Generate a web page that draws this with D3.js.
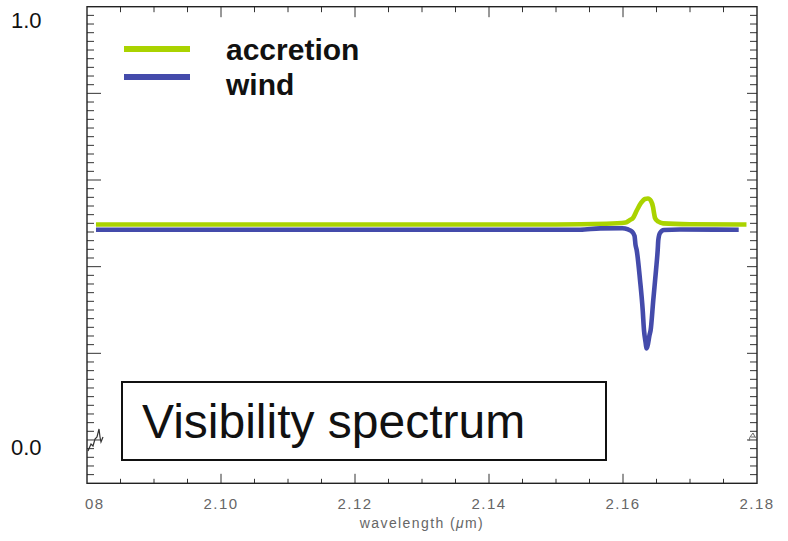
<!DOCTYPE html>
<html>
<head>
<meta charset="utf-8">
<script src="https://cdn.jsdelivr.net/npm/d3@7"></script>
<style>
  html, body { margin: 0; padding: 0; background: #fff; }
  svg { display: block; font-family: "Liberation Sans", Arial, sans-serif; }
</style>
</head>
<body>
<div id="graph"></div>
<script>
// accretion curve: [wavelength (um), visibility]
const accretion = [
  [2.08134, 0.4973], [2.1500, 0.4973], [2.1575, 0.4990], [2.1604, 0.5020],
  [2.16104, 0.5077], [2.16149, 0.5123], [2.16209, 0.5308], [2.16269, 0.5470],
  [2.16328, 0.5562], [2.16373, 0.5573], [2.16418, 0.5516], [2.16448, 0.5377],
  [2.16463, 0.5239], [2.16478, 0.5123], [2.16522, 0.5043], [2.16597, 0.5000],
  [2.1700, 0.4980], [2.17843, 0.4973]
];
// wind curve
const wind = [
  [2.08134, 0.4853], [2.1536, 0.4853], [2.1566, 0.4883], [2.1599, 0.4888],
  [2.16075, 0.4858], [2.16134, 0.4810], [2.16172, 0.4708], [2.16187, 0.4500],
  [2.16204, 0.4385], [2.16254, 0.3693], [2.16294, 0.3000], [2.16313, 0.2539],
  [2.16336, 0.2262], [2.16354, 0.2112], [2.16373, 0.2216], [2.16396, 0.2423],
  [2.16413, 0.2539], [2.16452, 0.3231], [2.16493, 0.3923], [2.16518, 0.4385],
  [2.16527, 0.4616], [2.16552, 0.4777], [2.16612, 0.4846], [2.1685, 0.4858],
  [2.17727, 0.4853]
];
const xTickLabels = ['08', '2.10', '2.12', '2.14', '2.16', '2.18'];
const xTickValues = [2.08, 2.10, 2.12, 2.14, 2.16, 2.18];
const yTickLabels = ['1.0', '0.0'];
const yTickValues = [1.0, 0.0];
const seriesNames = ['accretion', 'wind'];
const seriesColors = ['#aad300', '#444bab'];

const W = 788, H = 541;
const pLeft = 87, pRight = 757, pTop = 6.7, pBottom = 483.3;

const svg = d3.select('#graph')
  .append('svg')
    .attr('width', W)
    .attr('height', H);

const x = d3.scaleLinear().domain([2.08, 2.18]).range([pLeft, pRight]);
const y = d3.scaleLinear().domain([-0.1, 1.0]).range([pBottom, pTop]);

// minor / major ticks
const xMinor = d3.range(0, 21).map(i => 2.08 + i * 0.005).filter(v => v > 2.0801 && v < 2.1799);
const yMinor = d3.range(-4, 50).map(i => i * 0.02).filter(v => v > -0.0999 && v < 0.9999);
const isMajorX = v => Math.abs(Math.round(v * 50) - v * 50) < 1e-6;
const isMajorY = v => Math.abs(Math.round(v * 5) - v * 5) < 1e-6;

const ticks = svg.append('g').attr('stroke', '#333').attr('stroke-width', 1);

// bottom & top
ticks.selectAll('.xb').data(xMinor).enter().append('line')
  .attr('x1', d => x(d)).attr('x2', d => x(d))
  .attr('y1', pBottom).attr('y2', d => pBottom - (isMajorX(d) ? 9.5 : 4.5));
ticks.selectAll('.xt').data(xMinor).enter().append('line')
  .attr('x1', d => x(d)).attr('x2', d => x(d))
  .attr('y1', pTop).attr('y2', d => pTop + (isMajorX(d) ? 10.5 : 5.5));
// left & right
ticks.selectAll('.yl').data(yMinor).enter().append('line')
  .attr('y1', d => y(d)).attr('y2', d => y(d))
  .attr('x1', pLeft).attr('x2', d => pLeft + (isMajorY(d) ? 14 : 7));
ticks.selectAll('.yr').data(yMinor).enter().append('line')
  .attr('y1', d => y(d)).attr('y2', d => y(d))
  .attr('x1', pRight).attr('x2', d => pRight - (isMajorY(d) ? 10 : 7));

// frame
svg.append('rect')
  .attr('x', pLeft).attr('y', pTop)
  .attr('width', pRight - pLeft).attr('height', pBottom - pTop)
  .attr('fill', 'none')
  .attr('stroke', '#222')
  .attr('stroke-width', 1.4);

// x tick labels
svg.selectAll('.xlab').data(xTickValues).enter().append('text')
  .attr('x', (d, i) => i === 0 ? x(d) - 2 : x(d))
  .attr('y', 509)
  .attr('text-anchor', (d, i) => i === 0 ? 'start' : 'middle')
  .attr('fill', '#666')
  .style('font-size', '15px')
  .style('letter-spacing', '1.5px')
  .text((d, i) => xTickLabels[i]);

// x title
const xt = svg.append('text')
  .attr('x', (pLeft + pRight) / 2)
  .attr('y', 528)
  .attr('text-anchor', 'middle')
  .attr('fill', '#666')
  .style('font-size', '14px')
  .style('letter-spacing', '1.4px');
xt.append('tspan').text('wavelength (');
xt.append('tspan').style('font-style', 'italic').text('μ');
xt.append('tspan').text('m)');

// y labels (slide annotations)
const yOff = [21, 15];
svg.selectAll('.ylab').data(yTickValues).enter().append('text')
  .attr('x', 11)
  .attr('y', (d, i) => y(d) + yOff[i])
  .attr('fill', '#111')
  .style('font-size', '22px')
  .text((d, i) => yTickLabels[i]);

// garbled label remnants
svg.append('path')
  .attr('d', 'M88,451 L91,444 L93,446 L95,439 L97,437 L99,429 L100,437 L101,442 L103,437')
  .attr('fill', 'none').attr('stroke', '#333').attr('stroke-width', 1.2);
svg.append('path')
  .attr('d', 'M749,441 L750,437 L753,433 L755,437 L757,438 M751,437 L755,437')
  .attr('fill', 'none').attr('stroke', '#666').attr('stroke-width', 1);

// lines
const line = d3.line()
  .x(d => x(d[0]))
  .y(d => y(d[1]))
  .curve(d3.curveMonotoneX);

svg.append('path')
  .datum(accretion)
  .attr('d', line)
  .attr('fill', 'none')
  .attr('stroke', seriesColors[0])
  .attr('stroke-width', 4.6)
  .attr('stroke-linejoin', 'round');

svg.append('path')
  .datum(wind)
  .attr('d', line)
  .attr('fill', 'none')
  .attr('stroke', seriesColors[1])
  .attr('stroke-width', 4.6)
  .attr('stroke-linejoin', 'round');

// legend
const legendY = [49, 77], textY = [60, 95];
seriesNames.forEach((name, i) => {
  svg.append('line')
    .attr('x1', 124).attr('x2', 190)
    .attr('y1', legendY[i]).attr('y2', legendY[i])
    .attr('stroke', seriesColors[i])
    .attr('stroke-width', 6);
  svg.append('text')
    .attr('x', 226)
    .attr('y', textY[i])
    .style('font-size', '30px')
    .style('font-weight', 'bold')
    .attr('fill', '#111')
    .text(name);
});

// "Visibility spectrum" box
svg.append('rect')
  .attr('x', 122).attr('y', 382)
  .attr('width', 484).attr('height', 78)
  .attr('fill', '#fff')
  .attr('stroke', '#111')
  .attr('stroke-width', 2);
svg.append('text')
  .attr('x', 142)
  .attr('y', 438)
  .style('font-size', '48px')
  .attr('fill', '#111')
  .text('Visibility spectrum');
</script>
</body>
</html>
